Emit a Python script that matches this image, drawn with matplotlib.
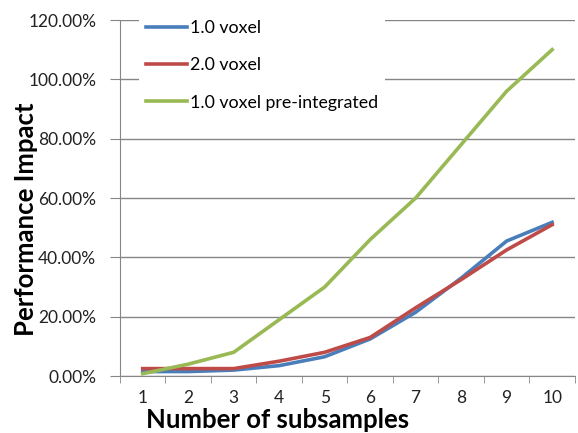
import numpy as np
import matplotlib.pyplot as plt
from matplotlib.ticker import FuncFormatter, MultipleLocator

subsamples = [1, 2, 3, 4, 5, 6, 7, 8, 9, 10]
voxel_1 = [1.5, 1.5, 2.0, 3.5, 6.5, 12.5, 21.5, 33.0, 45.5, 51.8]
voxel_2 = [2.5, 2.5, 2.5, 5.0, 8.0, 13.0, 23.0, 32.5, 42.5, 51.0]
voxel_1_pre = [0.8, 4.0, 8.0, 19.0, 30.0, 46.0, 60.0, 78.0, 96.0, 110.0]

plt.rcParams['font.family'] = ['Lato', 'DejaVu Sans']

fig = plt.figure(figsize=(5.78, 4.33), dpi=100)
ax = fig.add_axes([0.2076, 0.1316, 0.787, 0.8222])

ax.plot(subsamples, voxel_1, color='#4a7ebb', lw=2.6, label='1.0 voxel', zorder=3)
ax.plot(subsamples, voxel_2, color='#be4b48', lw=2.6, label='2.0 voxel', zorder=3)
ax.plot(subsamples, voxel_1_pre, color='#98b954', lw=2.6, label='1.0 voxel pre-integrated', zorder=3)

ax.set_xlim(0.5, 10.5)
ax.set_ylim(0, 120)
ax.yaxis.set_major_locator(MultipleLocator(20))
ax.yaxis.set_major_formatter(FuncFormatter(lambda v, p: '%.2f%%' % v))
ax.set_xticks(subsamples)
ax.set_xticks(np.arange(0.5, 11, 1), minor=True)
ax.tick_params(axis='x', which='major', length=0, pad=10, labelsize=12.5, colors='#222222')
ax.tick_params(axis='x', which='minor', length=5, direction='out', color='#868686')
ax.tick_params(axis='y', length=7, pad=10, direction='out', color='#868686', labelsize=12.5, labelcolor='#222222')

ax.grid(axis='y', color='#868686', lw=1)
ax.set_axisbelow(True)
for s in ['top', 'right']:
    ax.spines[s].set_visible(False)
for s in ['left', 'bottom']:
    ax.spines[s].set_color('#868686')

ax.set_xlabel('Number of subsamples', fontsize=18.5, fontweight='bold')
ax.xaxis.set_label_coords(0.347, -0.09)
ax.set_ylabel('Performance Impact', fontsize=18.5, fontweight='bold')
ax.yaxis.set_label_coords(-0.18, 0.44)

leg = ax.legend(loc='upper left', bbox_to_anchor=(0.03, 1.035), fontsize=12.8, handlelength=2.3,
                handletextpad=0.15, labelspacing=1.2, borderaxespad=0.3, borderpad=0.4,
                facecolor='white', edgecolor='none', framealpha=1)
leg.set_zorder(5)

fig.savefig('out.png', dpi=100)
